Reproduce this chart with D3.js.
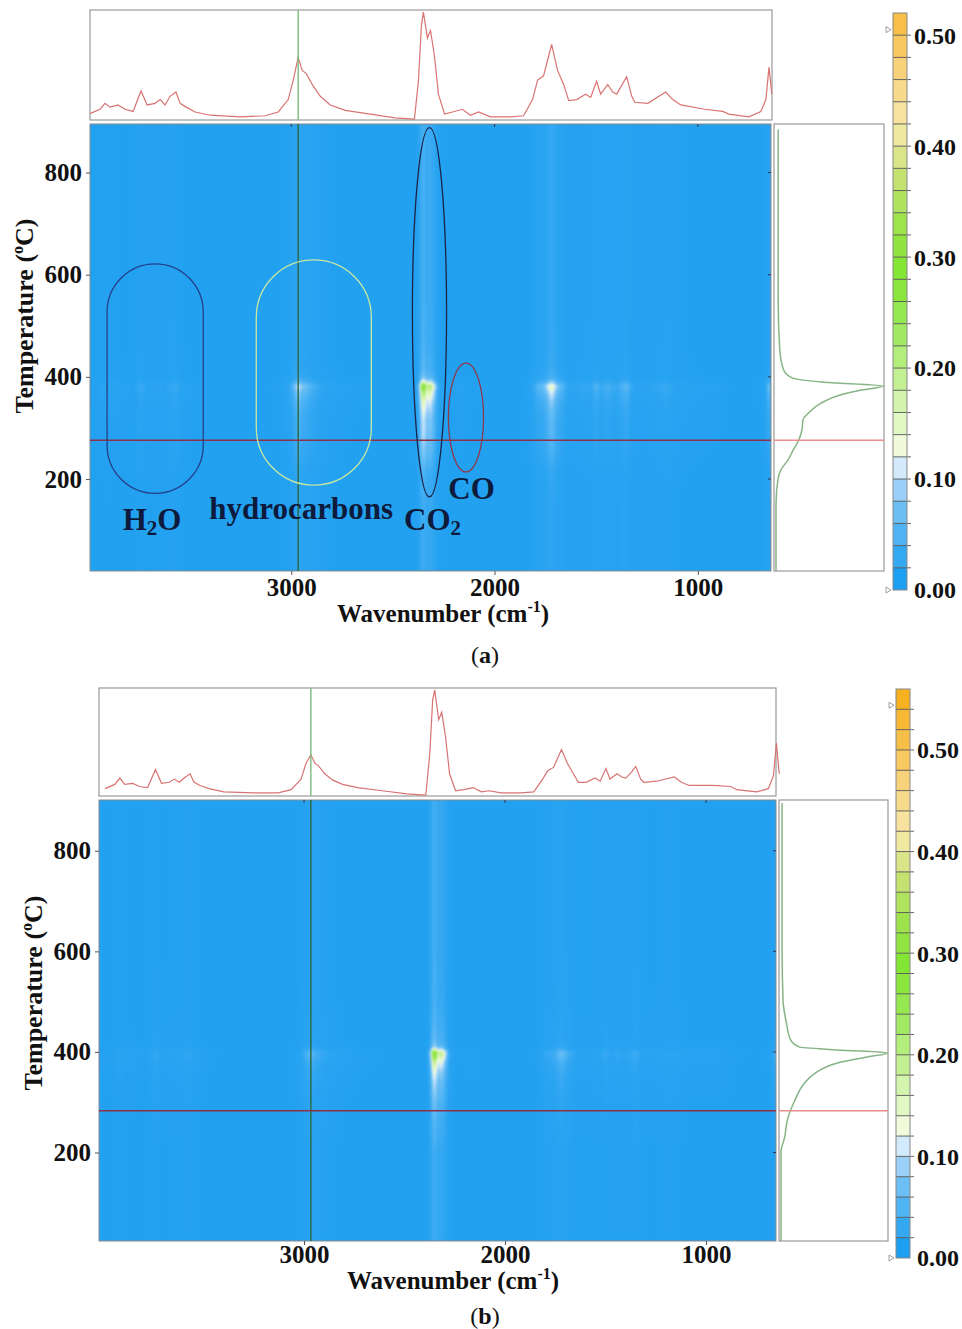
<!DOCTYPE html>
<html>
<head>
<meta charset="utf-8">
<script src="https://cdn.jsdelivr.net/npm/d3@7"></script>
<style>
body { margin: 0; background: #fff; }
text { font-family: "Liberation Serif", "DejaVu Serif", serif; font-weight: bold; fill: #111; }
</style>
</head>
<body>
<svg id="chart" width="962" height="1329"></svg>
<script>
// spectrum at the cursor temperature (top strip), heights relative to strip
var specWn = [3990, 3941, 3916, 3892, 3852, 3818, 3778, 3739, 3709, 3670, 3645, 3621, 3596, 3567, 3547, 3517,
  3473, 3399, 3251, 3128, 3064, 3015, 2990, 2966, 2946, 2926, 2897, 2857, 2808, 2734, 2611, 2488,
  2394, 2374, 2360, 2350, 2330, 2315, 2296, 2276, 2246, 2207, 2158, 2118, 2079, 2020, 1921, 1857,
  1813, 1788, 1759, 1719, 1690, 1660, 1635, 1596, 1552, 1527, 1498, 1478, 1443, 1419, 1399, 1369,
  1350, 1325, 1310, 1246, 1158, 1123, 1084, 966, 877, 847, 749, 690, 665, 650, 636];
var specA = [0.05, 0.09, 0.145, 0.11, 0.13, 0.09, 0.07, 0.26, 0.13, 0.145, 0.18, 0.13, 0.21, 0.25, 0.145, 0.11,
  0.065, 0.035, 0.02, 0.03, 0.065, 0.18, 0.36, 0.57, 0.45, 0.42, 0.32, 0.21, 0.13, 0.08, 0.045, 0.01,
  0.0, 0.36, 0.86, 0.99, 0.75, 0.82, 0.59, 0.23, 0.045, 0.065, 0.09, 0.035, 0.065, 0.02, 0.02, 0.03,
  0.18, 0.36, 0.40, 0.69, 0.45, 0.32, 0.17, 0.18, 0.23, 0.20, 0.35, 0.23, 0.32, 0.25, 0.23, 0.33,
  0.39, 0.21, 0.155, 0.145, 0.25, 0.18, 0.13, 0.09, 0.07, 0.045, 0.02, 0.07, 0.18, 0.48, 0.23];
var specB = [0.06, 0.10, 0.16, 0.10, 0.11, 0.08, 0.07, 0.24, 0.11, 0.12, 0.15, 0.12, 0.16, 0.20, 0.12, 0.09,
  0.06, 0.03, 0.02, 0.02, 0.05, 0.15, 0.30, 0.38, 0.30, 0.27, 0.20, 0.14, 0.10, 0.07, 0.04, 0.01,
  0.0, 0.40, 0.90, 0.99, 0.71, 0.78, 0.55, 0.20, 0.04, 0.05, 0.07, 0.03, 0.04, 0.02, 0.02, 0.03,
  0.15, 0.23, 0.26, 0.43, 0.30, 0.20, 0.12, 0.12, 0.16, 0.13, 0.25, 0.15, 0.20, 0.17, 0.16, 0.22,
  0.27, 0.15, 0.12, 0.13, 0.17, 0.12, 0.09, 0.09, 0.08, 0.05, 0.03, 0.06, 0.18, 0.49, 0.20];

// evolution profile at the cursor wavenumber (right strip), relative
var profTA = [884, 551, 453, 414, 398, 390, 382, 374, 365, 349, 331, 316, 296, 276, 257, 237, 218, 202, 150, 20];
var profVA = [0.02, 0.02, 0.035, 0.07, 0.15, 0.42, 1.0, 0.78, 0.6, 0.42, 0.31, 0.25, 0.24, 0.21, 0.16, 0.11, 0.045, 0.02, 0.0, 0.0];
var profTB = [895, 600, 500, 458, 424, 410, 404, 398, 390, 378, 358, 338, 304, 265, 231, 201, 150, 24];
var profVB = [0.01, 0.01, 0.02, 0.05, 0.09, 0.17, 0.53, 1.0, 0.81, 0.53, 0.32, 0.22, 0.13, 0.06, 0.035, 0.0, 0.0, 0.0];

var cursorWn = [2966, 2966];
var cursorTemp = [276, 283];
var cbarMax = [0.52, 0.56];
var cbarMarks = [[0.505, 0.0], [0.544, 0.0]];

var tempTicks = [200, 400, 600, 800];
var wnTicks = [3000, 2000, 1000];
var cbarTicks = [0, 0.1, 0.2, 0.3, 0.4, 0.5];

var cmapVals = [0, 0.01, 0.03, 0.05, 0.07, 0.09, 0.11, 0.13, 0.15, 0.19, 0.23, 0.27, 0.29, 0.33, 0.37, 0.41, 0.43, 0.47, 0.51, 0.55];
var cmapCols = ["#1898ee", "#1c9ff0", "#35a8f2", "#50b4f4", "#6cbff4", "#9ad0f8", "#d2eafc", "#f2fadc", "#e2f8c4", "#c4f094",
  "#a2ea64", "#8ae63c", "#84e634", "#9ee24c", "#c4e270", "#eee8a0", "#f8e2a0", "#f8d27a", "#f8bf48", "#f6b020"];

// annotations of panel (a)
var ovalWn = [[3906, 3433], [3172, 2606], [2404, 2236], [2227, 2054]];
var ovalTemp = [[172, 621], [188, 629], [165, 888], [214, 427]];
var ovalShape = ["stadium", "stadium", "ellipse", "ellipse"];
var ovalColors = ["#24408a", "#c6e8a2", "#1a2448", "#8c3a4c"];
var labelMain = ["H", "hydrocarbons", "CO", "CO"];
var labelSub = ["2", "", "2", ""];
var labelTail = ["O", "", "", ""];
var labelWn = [3685, 2951, 2305, 2113];
var labelTemp = [100, 122, 100, 160];

var svg = d3.select("#chart");
svg.append("rect").attr("width", 962).attr("height", 1329).attr("fill", "#fff");

var cmap = d3.scaleLinear().domain(cmapVals).range(cmapCols).clamp(true);
var lut = d3.range(0, 601).map(function(i) { return d3.rgb(cmap(i / 1000)); });

var panels = [
  { top: [90, 772, 10, 120], heat: [90, 771, 124, 571], side: 884, wn: [3990, 640], temp: [20, 895],
    cbar: [893, 907, 590, 13], spec: specA, profT: profTA, profV: profVA, idx: 0, pad: 3,
    xTitle: [443, 622], yTitle: [33, 316], tag: [485, 663], name: "a" },
  { top: [99, 776, 688, 796], heat: [99, 776, 800, 1241], side: 888, wn: [4020, 652], temp: [24, 901],
    cbar: [896, 910, 1258, 689], spec: specB, profT: profTB, profV: profVB, idx: 1, pad: 0,
    xTitle: [453, 1289], yTitle: [42, 993], tag: [485, 1324], name: "b" }
];

panels.forEach(drawPanel);
drawNotes(panels[0]);

function drawPanel(p) {
  var g = svg.append("g");
  var x = d3.scaleLinear().domain(p.wn).range([p.heat[0], p.heat[1]]);
  var y = d3.scaleLinear().domain(p.temp).range([p.heat[3], p.heat[2]]);
  var spec = d3.scaleLinear().domain(specWn).range(p.spec).clamp(true);
  var prof = d3.scaleLinear().domain(p.profT).range(p.profV).clamp(true);
  var cb = d3.scaleLinear().domain([0, cbarMax[p.idx]]).range([p.cbar[2], p.cbar[3]]);

  // heat map image
  var hw = p.heat[1] - p.heat[0], hh = p.heat[3] - p.heat[2];
  var canvas = document.createElement("canvas");
  canvas.width = hw; canvas.height = hh;
  var ctx = canvas.getContext("2d");
  var img = ctx.createImageData(hw, hh);
  var sCol = [];
  for (var i = 0; i < hw; i++) sCol.push(Math.pow(spec(x.invert(p.heat[0] + i + 0.5)), 2));
  for (var j = 0; j < hh; j++) {
    var pr = prof(y.invert(p.heat[2] + j + 0.5));
    for (var i2 = 0; i2 < hw; i2++) {
      var v = 0.015 + sCol[i2] * (0.3 * pr + 0.025);
      var c = lut[Math.max(0, Math.min(600, Math.round(v * 1000)))];
      var k = (j * hw + i2) * 4;
      img.data[k] = c.r; img.data[k + 1] = c.g; img.data[k + 2] = c.b; img.data[k + 3] = 255;
    }
  }
  ctx.putImageData(img, 0, 0);
  var soft = document.createElement("canvas");
  soft.width = hw; soft.height = hh;
  var sctx = soft.getContext("2d");
  sctx.fillStyle = lut[15].toString();
  sctx.fillRect(0, 0, hw, hh);
  sctx.filter = "blur(1.3px)";
  sctx.drawImage(canvas, 0, 0);
  g.append("image").attr("x", p.heat[0]).attr("y", p.heat[2]).attr("width", hw).attr("height", hh)
    .attr("preserveAspectRatio", "none").attr("href", soft.toDataURL());
  g.append("rect").attr("x", p.heat[0]).attr("y", p.heat[2]).attr("width", hw).attr("height", hh)
    .attr("fill", "none").attr("stroke", "#8a8a8a").attr("stroke-width", 1);

  // inner ticks on top and right edges
  g.selectAll(".tt").data(wnTicks).enter().append("line")
    .attr("x1", function(d) { return x(d); }).attr("x2", function(d) { return x(d); })
    .attr("y1", p.heat[2]).attr("y2", p.heat[2] + 3).attr("stroke", "#335").attr("stroke-width", 1);
  g.selectAll(".rt").data(tempTicks).enter().append("line")
    .attr("x1", p.heat[1] - 3).attr("x2", p.heat[1])
    .attr("y1", function(d) { return y(d); }).attr("y2", function(d) { return y(d); })
    .attr("stroke", "#335").attr("stroke-width", 1);

  // top spectrum strip
  var yTop = d3.scaleLinear().domain([0, 1]).range([p.top[3] - 1, p.top[2] + 1]);
  g.append("rect").attr("x", p.top[0]).attr("y", p.top[2]).attr("width", p.top[1] - p.top[0])
    .attr("height", p.top[3] - p.top[2]).attr("fill", "#fff").attr("stroke", "#999").attr("stroke-width", 1.2);
  g.append("path").datum(specWn)
    .attr("d", d3.line().x(function(d) { return x(d); }).y(function(d, i) { return yTop(p.spec[i]); }))
    .attr("fill", "none").attr("stroke", "#d97373").attr("stroke-width", 1.2);

  // side profile strip
  var xs = d3.scaleLinear().domain([0, 1]).range([p.heat[1] + 5, p.side]);
  g.append("rect").attr("x", p.heat[1] + 3).attr("y", p.heat[2]).attr("width", p.side - p.heat[1] - 3)
    .attr("height", hh).attr("fill", "#fff").attr("stroke", "#999").attr("stroke-width", 1.2);
  g.append("path").datum(p.profT)
    .attr("d", d3.line().curve(d3.curveMonotoneY)
      .x(function(d, i) { return xs(p.profV[i]); }).y(function(d) { return y(d); }))
    .attr("fill", "none").attr("stroke", "#86b486").attr("stroke-width", 1.5);

  // cursors
  var cw = x(cursorWn[p.idx]), ct = y(cursorTemp[p.idx]);
  g.append("line").attr("x1", cw).attr("x2", cw).attr("y1", p.top[2]).attr("y2", p.top[3])
    .attr("stroke", "#7cba7c").attr("stroke-width", 1.4);
  g.append("line").attr("x1", cw).attr("x2", cw).attr("y1", p.heat[2]).attr("y2", p.heat[3])
    .attr("stroke", "#2e6a4c").attr("stroke-width", 1.5);
  g.append("line").attr("x1", p.heat[0]).attr("x2", p.heat[1]).attr("y1", ct).attr("y2", ct)
    .attr("stroke", "#8e3048").attr("stroke-width", 1.5);
  g.append("line").attr("x1", p.heat[1] + 3).attr("x2", p.side).attr("y1", ct).attr("y2", ct)
    .attr("stroke", "#e88c8c").attr("stroke-width", 1.4);

  // axes
  var ax = g.append("g").attr("transform", "translate(0," + p.heat[3] + ")")
    .call(d3.axisBottom(x).tickValues(wnTicks).tickFormat(d3.format("d")).tickSize(4).tickPadding(p.pad));
  var ay = g.append("g").attr("transform", "translate(" + p.heat[0] + ",0)")
    .call(d3.axisLeft(y).tickValues(tempTicks).tickFormat(d3.format("d")).tickSize(4).tickPadding(4));
  [ax, ay].forEach(function(a) {
    a.select(".domain").remove();
    a.selectAll("line").attr("stroke", "#555");
    a.selectAll("text").attr("font-family", null).attr("font-size", 25).attr("fill", "#111");
  });

  var xt = g.append("text").attr("x", p.xTitle[0]).attr("y", p.xTitle[1])
    .attr("text-anchor", "middle").attr("font-size", 25);
  xt.append("tspan").text("Wavenumber (cm");
  xt.append("tspan").attr("font-size", 16).attr("dy", -10).text("-1");
  xt.append("tspan").attr("dy", 10).text(")");
  var yt = g.append("text").attr("transform", "translate(" + p.yTitle[0] + "," + p.yTitle[1] + ") rotate(-90)")
    .attr("text-anchor", "middle").attr("font-size", 26);
  yt.append("tspan").text("Temperature (");
  yt.append("tspan").attr("font-size", 16).attr("dy", -10).text("o");
  yt.append("tspan").attr("dy", 10).text("C)");

  var tg = g.append("text").attr("x", p.tag[0]).attr("y", p.tag[1]).attr("text-anchor", "middle")
    .attr("font-size", 24);
  tg.append("tspan").attr("font-weight", "normal").text("(");
  tg.append("tspan").text(p.name);
  tg.append("tspan").attr("font-weight", "normal").text(")");

  // colour bar
  var n = Math.round(cbarMax[p.idx] / 0.02);
  var cells = d3.range(n).map(function(i) { return i * 0.02; });
  g.selectAll(".cell").data(cells).enter().append("rect")
    .attr("x", p.cbar[0]).attr("width", p.cbar[1] - p.cbar[0])
    .attr("y", function(d) { return cb(d + 0.02); })
    .attr("height", function(d) { return cb(d) - cb(d + 0.02); })
    .attr("fill", function(d) { return cmap(d + 0.01); });
  g.selectAll(".sep").data(cells.slice(1)).enter().append("line")
    .attr("x1", p.cbar[0]).attr("x2", p.cbar[1] + 4)
    .attr("y1", function(d) { return cb(d); }).attr("y2", function(d) { return cb(d); })
    .attr("stroke", "#555").attr("stroke-width", 0.9);
  g.append("rect").attr("x", p.cbar[0]).attr("y", cb(cbarMax[p.idx])).attr("width", p.cbar[1] - p.cbar[0])
    .attr("height", cb(0) - cb(cbarMax[p.idx])).attr("fill", "none").attr("stroke", "#888").attr("stroke-width", 1);
  g.selectAll(".cbl").data(cbarTicks).enter().append("text")
    .attr("x", p.cbar[1] + 7).attr("y", function(d) { return cb(d); }).attr("dy", "0.35em")
    .attr("font-size", 24).text(function(d) { return d3.format(".2f")(d); });
  g.selectAll(".mk").data(cbarMarks[p.idx]).enter().append("path")
    .attr("d", function(d) { var yy = cb(d); var x0 = p.cbar[0] - 7;
      return "M" + x0 + "," + (yy - 3) + "L" + (x0 + 5) + "," + yy + "L" + x0 + "," + (yy + 3) + "Z"; })
    .attr("fill", "#fff").attr("stroke", "#888").attr("stroke-width", 0.8);
}

function drawNotes(p) {
  var x = d3.scaleLinear().domain(p.wn).range([p.heat[0], p.heat[1]]);
  var y = d3.scaleLinear().domain(p.temp).range([p.heat[3], p.heat[2]]);
  var g = svg.append("g");
  ovalWn.forEach(function(w, i) {
    var x0 = x(w[0]), x1 = x(w[1]), y0 = y(ovalTemp[i][1]), y1 = y(ovalTemp[i][0]);
    var rw = (x1 - x0) / 2;
    g.append("rect").attr("x", x0).attr("y", y0).attr("width", x1 - x0).attr("height", y1 - y0)
      .attr("rx", rw).attr("ry", ovalShape[i] === "stadium" ? rw : (y1 - y0) / 2)
      .attr("fill", "none").attr("stroke", ovalColors[i]).attr("stroke-width", 1.3);
  });
  labelMain.forEach(function(t, i) {
    var tx = g.append("text").attr("x", x(labelWn[i])).attr("y", y(labelTemp[i]))
      .attr("text-anchor", "middle").attr("font-size", 31).style("fill", "#0e1a3c");
    tx.append("tspan").text(t);
    if (labelSub[i]) tx.append("tspan").attr("font-size", 21).attr("dy", 5).text(labelSub[i]);
    if (labelTail[i]) tx.append("tspan").attr("dy", -5).text(labelTail[i]);
  });
}
</script>
</body>
</html>
